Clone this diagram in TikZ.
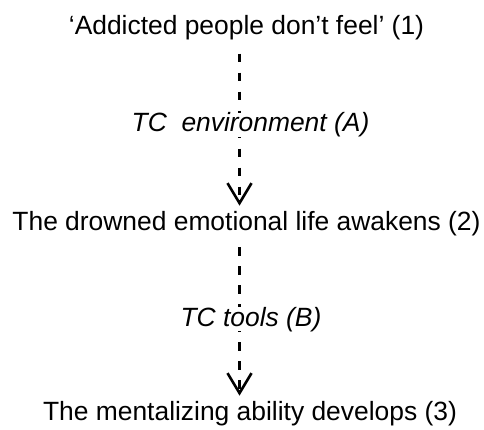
\documentclass[tikz,border=0pt]{standalone}
\usepackage{fontspec}
\setmainfont{Liberation Sans}
\usetikzlibrary{arrows.meta}
\begin{document}
\begin{tikzpicture}[x=1pt,y=-1pt,
  txt/.style={anchor=base,inner sep=0pt,font=\fontsize{26.4}{30}\selectfont},
  lab/.style={anchor=base,inner sep=0pt,fill=white,font=\fontsize{26.4}{30}\selectfont\itshape},
  conn/.style={line width=2.6pt,dash pattern=on 8.5pt off 10.5pt,
    -{Straight Barb[length=20pt,width=24pt,line width=2.6pt]}}]
\fill[white] (0,0) rectangle (484,430);
\useasboundingbox (0,0) rectangle (484,430);
\coordinate (ax) at (239.5,0);
\node[txt] (t1) at (246.5,35) {‘Addicted people don’t feel’ (1)};
\node[txt] (t2) at (246.5,230) {The drowned emotional life awakens (2)};
\node[txt] (t3) at (250,420) {The mentalizing ability develops (3)};
\draw[conn,shorten <=13pt,shorten >=5pt] (t1.south -| ax) -- (t2.north -| ax);
\draw[conn,shorten <=11.5pt,shorten >=5pt] (t2.south -| ax) -- (t3.north -| ax);
\node[lab] (la) at (250.5,131.7) {TC\ \ environment (A)};
\node[lab] (lb) at (251,326) {TC tools (B)};
\end{tikzpicture}
\end{document}
